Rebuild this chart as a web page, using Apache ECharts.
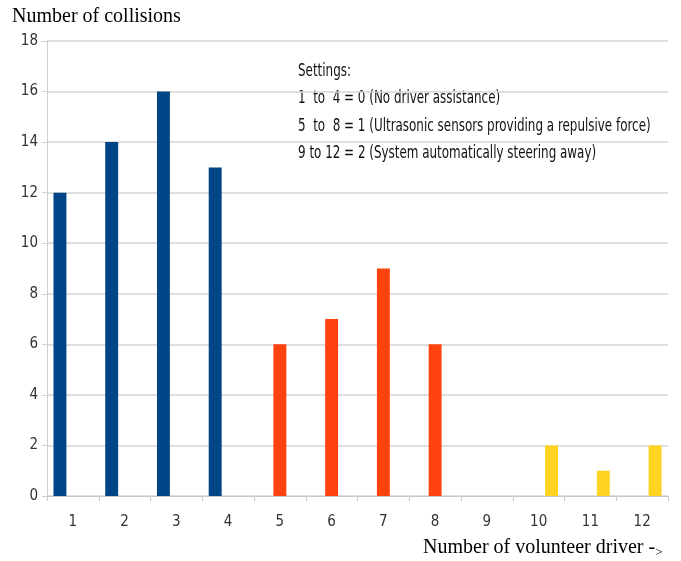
<!DOCTYPE html>
<html>
<head>
<meta charset="utf-8">
<script src="https://cdn.jsdelivr.net/npm/echarts@6/dist/echarts.min.js"></script>
<style>html,body{margin:0;padding:0;background:#fff;}#c{width:681px;height:561px;}</style>
</head>
<body>
<div id="c"></div>
<script>
const categories = ['1','2','3','4','5','6','7','8','9','10','11','12'];
const setting0 = [12, 14, 16, 13, null, null, null, null, null, null, null, null];
const setting1 = [null, null, null, null, 6, 7, 9, 6, null, null, null, null];
const setting2 = [null, null, null, null, null, null, null, null, 0, 2, 1, 2];
const yTicks = [0, 2, 4, 6, 8, 10, 12, 14, 16, 18];
const yTitle = 'Number of collisions';
const xTitle = 'Number of volunteer driver -';
const notes = [
  'Settings:',
  '1  to  4 = 0 (No driver assistance)',
  '5  to  8 = 1 (Ultrasonic sensors providing a repulsive force)',
  '9 to 12 = 2 (System automatically steering away)'
];

const narrow = '"DejaVu Sans Condensed", "DejaVu Sans", sans-serif';
const serif = '"Liberation Serif", "Times New Roman", serif';
const chart = echarts.init(document.getElementById('c'), null, {renderer: 'canvas'});
const barStyle = (c) => ({
  type: 'bar', barGap: '0%', barCategoryGap: '25%', itemStyle: {color: c}, silent: true
});
chart.setOption({
  animation: false,
  backgroundColor: '#fff',
  grid: {left: 47, right: 13, top: 41, bottom: 65, containLabel: false},
  xAxis: {
    type: 'category', data: categories,
    axisLine: {show: true, lineStyle: {color: '#c8c8c8', width: 1}},
    axisTick: {show: true, length: 5, lineStyle: {color: '#c8c8c8'}},
    axisLabel: {color: '#333', fontFamily: narrow, fontSize: 15, margin: 19}
  },
  yAxis: {
    type: 'value', min: yTicks[0], max: yTicks[yTicks.length - 1], interval: 2,
    axisLine: {show: true, lineStyle: {color: '#d0d0d0', width: 1}},
    axisTick: {show: true, length: 5, lineStyle: {color: '#d0d0d0'}},
    axisLabel: {color: '#333', fontFamily: narrow, fontSize: 15, margin: 9},
    splitLine: {lineStyle: {color: '#d4d4d4', width: 1.5}}
  },
  series: [
    Object.assign({name: 'Setting 0', data: setting0}, barStyle('#004586')),
    Object.assign({name: 'Setting 1', data: setting1}, barStyle('#ff420e')),
    Object.assign({name: 'Setting 2', data: setting2}, barStyle('#ffd320'))
  ],
  graphic: [
    {type: 'text', left: 12, top: 7, style: {text: yTitle, font: '20px ' + serif, fill: '#000'}},
    {type: 'text', left: 423, top: 538, style: {
      text: '{a|' + xTitle + '}{s|>}',
      rich: {
        a: {font: '20px ' + serif, fill: '#000'},
        s: {font: '13px ' + serif, fill: '#000', padding: [10, 0, 0, 0]}
      }
    }},
    ...notes.map((t, i) => ({
      type: 'text', x: 298, y: 63 + i * 27.3, scaleX: 0.78,
      style: {text: t, font: '17px ' + narrow, fill: '#111'}
    }))
  ]
});
</script>
</body>
</html>
